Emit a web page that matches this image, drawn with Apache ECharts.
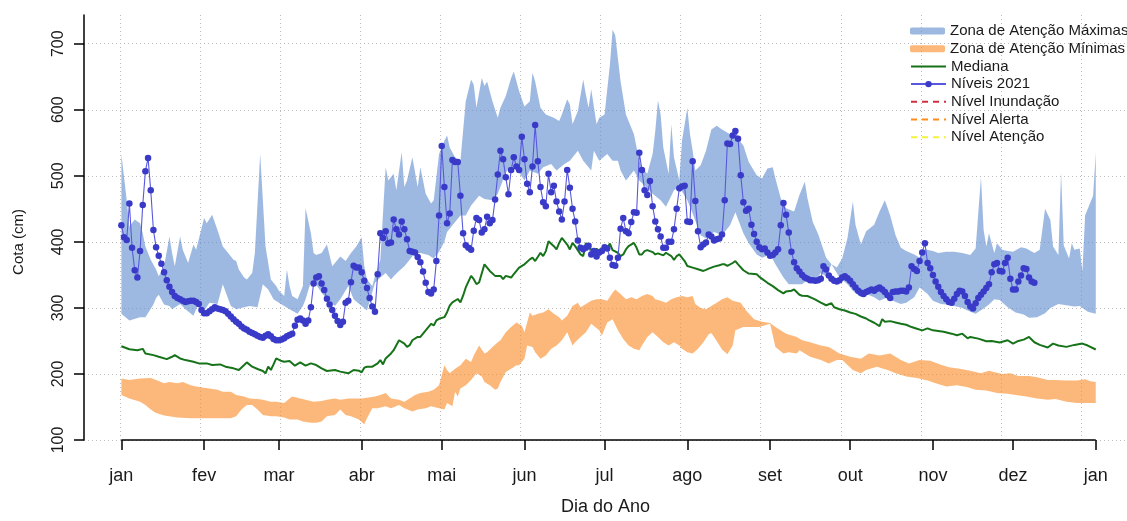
<!DOCTYPE html>
<html>
<head>
<meta charset="utf-8">
<script src="https://cdn.jsdelivr.net/npm/echarts@6/dist/echarts.min.js"></script>
<style>
html,body{margin:0;padding:0;background:#fff;}
#chart{width:1127px;height:521px;}
</style>
</head>
<body>
<div id="chart"></div>
<script>
// ---- axis ticks ----
const monthDays = [1, 32, 60, 91, 121, 152, 182, 213, 244, 274, 305, 335, 366];
const monthNames = ['jan', 'fev', 'mar', 'abr', 'mai', 'jun', 'jul', 'ago', 'set', 'out', 'nov', 'dez', 'jan'];
const gridDays = [0.5, 30.5, 60.5, 90.5, 120.5, 150.5, 180.5, 210.5, 240.5, 270.5, 300.5, 330.5, 360.5];
const yTicks = [100, 200, 300, 400, 500, 600, 700];

// ---- Zona de Atenção Máximas (upper / lower edge, [day, cota]) ----
const maxUpper = [[1,533],[3,463],[4,423],[6,434],[8,428],[9,413],[10,393],[12,373],[14,358],[15,348],[17,363],[19,408],[20,383],[21,363],[23,408],[24,388],[26,368],[28,396],[29,388],[32,436],[33,428],[35,441],[37,418],[39,393],[41,383],[43,373],[44,371],[45,358],[47,346],[48,343],[50,353],[51,383],[53,533],[54,463],[55,393],[57,343],[59,333],[60,326],[62,318],[63,358],[64,333],[65,318],[67,313],[69,333],[70,451],[72,413],[73,383],[74,380],[76,383],[78,396],[80,363],[82,373],[83,378],[85,371],[87,383],[89,393],[91,407],[92,363],[93,343],[95,333],[96,348],[98,373],[100,513],[101,493],[103,503],[104,478],[106,536],[107,483],[108,493],[110,528],[112,483],[113,513],[115,473],[117,458],[118,463],[120,533],[122,553],[123,561],[124,543],[126,528],[128,523],[130,613],[132,646],[133,638],[134,603],[136,648],[137,636],[138,643],[140,613],[142,588],[143,603],[145,621],[147,648],[148,658],[150,628],[152,605],[154,613],[155,656],[156,643],[158,603],[160,593],[163,588],[165,583],[166,593],[168,616],[169,608],[170,578],[172,598],[174,646],[175,623],[176,603],[177,631],[179,578],[180,588],[182,593],[184,668],[185,721],[186,713],[188,643],[190,593],[193,563],[195,523],[196,513],[198,503],[200,533],[201,568],[202,614],[203,593],[204,543],[206,503],[207,578],[208,528],[210,493],[211,553],[213,603],[214,563],[215,538],[216,508],[218,516],[220,538],[222,570],[224,576],[226,570],[229,563],[231,561],[234,546],[236,521],[239,501],[241,496],[243,511],[245,513],[246,496],[248,466],[250,451],[253,446],[255,471],[257,491],[258,466],[260,430],[262,412],[265,376],[267,366],[269,361],[271,375],[273,406],[275,461],[276,426],[278,396],[280,416],[283,426],[285,446],[287,463],[289,440],[291,410],[293,391],[295,386],[298,381],[300,376],[302,389],[305,386],[307,383],[310,385],[313,385],[316,383],[319,380],[321,390],[323,498],[324,418],[325,393],[326,413],[328,383],[329,398],[331,388],[333,386],[335,385],[338,392],[340,390],[343,383],[345,388],[347,450],[349,433],[350,393],[352,380],[353,505],[354,395],[356,375],[357,398],[358,388],[360,390],[361,355],[362,440],[364,460],[365,470],[366,535]];
const maxLower = [[1,291],[4,281],[8,286],[10,286],[13,305],[14,315],[15,320],[17,305],[19,303],[20,298],[23,306],[25,298],[28,288],[30,308],[32,296],[34,308],[37,306],[39,336],[42,303],[44,298],[47,301],[49,303],[52,301],[54,336],[56,328],[58,313],[60,308],[62,303],[64,298],[67,291],[69,303],[70,313],[72,340],[74,335],[76,323],[78,313],[81,303],[83,313],[86,333],[88,313],[91,303],[93,296],[96,338],[98,346],[100,353],[102,343],[103,348],[105,356],[107,363],[109,373],[111,383],[113,383],[116,380],[118,375],[120,385],[122,400],[123,415],[126,430],[128,440],[130,440],[132,455],[135,470],[137,465],[140,463],[142,473],[145,505],[147,515],[150,505],[152,493],[154,508],[157,503],[159,513],[162,518],[164,508],[167,518],[169,523],[172,538],[174,523],[177,508],[178,538],[180,523],[183,533],[185,523],[187,523],[188,508],[190,493],[193,508],[195,493],[198,481],[200,473],[203,463],[205,453],[208,478],[210,483],[213,463],[215,443],[218,410],[220,405],[223,415],[226,410],[229,425],[231,445],[234,413],[236,398],[239,381],[241,376],[244,381],[246,366],[249,346],[251,336],[254,336],[256,336],[259,346],[261,343],[263,353],[265,348],[267,366],[270,346],[273,336],[275,326],[278,316],[280,321],[283,316],[285,311],[288,316],[290,311],[293,306],[295,308],[298,316],[300,331],[303,321],[305,311],[308,306],[310,305],[313,303],[316,300],[319,294],[321,291],[324,299],[326,305],[328,313],[330,312],[333,301],[336,293],[339,290],[341,285],[344,286],[347,292],[349,300],[352,306],[355,304],[358,302],[360,303],[363,294],[366,291]];

// ---- Zona de Atenção Mínimas ----
const minUpper = [[1,193],[4,191],[8,193],[12,194],[14,191],[17,186],[19,188],[22,186],[24,188],[27,183],[29,181],[32,179],[34,178],[37,176],[39,173],[42,173],[44,168],[47,166],[49,163],[52,162],[54,161],[57,158],[59,158],[62,156],[64,163],[65,166],[68,163],[70,161],[73,158],[76,159],[78,161],[81,163],[83,161],[86,163],[88,163],[91,163],[93,164],[96,166],[98,168],[100,171],[102,163],[105,161],[107,158],[109,163],[111,168],[113,171],[116,173],[118,176],[120,183],[122,213],[123,206],[124,201],[126,208],[128,213],[130,223],[132,218],[133,228],[135,243],[137,231],[138,233],[140,241],[142,248],[143,251],[145,263],[147,271],[149,278],[151,273],[152,263],[154,293],[155,288],[157,291],[159,293],[161,298],[163,291],[165,286],[166,281],[168,288],[170,303],[172,308],[173,301],[175,306],[177,311],[179,313],[181,313],[183,311],[185,323],[186,328],[188,321],[190,313],[192,316],[194,313],[196,318],[198,321],[200,318],[201,313],[203,311],[205,308],[207,313],[209,316],[211,318],[213,316],[215,318],[216,306],[218,300],[220,298],[222,303],[224,308],[226,313],[228,316],[230,311],[233,308],[235,296],[238,283],[241,279],[244,277],[246,271],[250,261],[254,256],[256,251],[259,248],[263,243],[266,241],[270,231],[274,226],[278,223],[281,231],[285,228],[289,231],[293,221],[296,216],[300,221],[304,220],[308,214],[311,210],[315,208],[319,205],[323,201],[326,205],[329,202],[331,200],[334,201],[337,197],[341,197],[344,195],[348,191],[351,191],[355,190],[359,190],[362,192],[364,189],[366,188]];
const minLower = [[1,168],[4,163],[8,158],[10,153],[12,146],[14,141],[17,137],[22,134],[27,133],[32,133],[37,133],[42,133],[44,136],[46,146],[48,153],[50,153],[52,146],[54,138],[57,136],[59,136],[62,134],[64,131],[67,131],[69,128],[72,126],[74,126],[76,128],[78,136],[81,138],[83,146],[85,138],[87,136],[90,131],[92,124],[93,133],[95,148],[97,148],[100,151],[102,148],[105,153],[107,148],[110,143],[112,146],[115,148],[117,151],[120,148],[122,146],[123,156],[125,151],[126,173],[127,166],[128,178],[130,183],[132,191],[134,201],[136,196],[137,188],[139,183],[141,176],[142,178],[143,188],[145,203],[147,208],[149,213],[150,213],[152,223],[153,243],[155,241],[156,233],[158,223],[160,228],[162,238],[164,243],[166,251],[168,263],[170,243],[171,248],[173,256],[175,263],[177,276],[180,266],[181,258],[183,278],[185,283],[187,266],[189,253],[191,243],[193,238],[195,236],[196,243],[198,256],[200,263],[202,256],[204,248],[206,243],[208,248],[210,243],[211,238],[213,233],[215,231],[217,238],[219,248],[221,260],[222,262],[224,250],[226,237],[228,230],[230,243],[231,266],[234,271],[236,271],[240,271],[244,276],[246,241],[249,231],[251,233],[254,231],[255,236],[259,226],[263,221],[266,216],[269,221],[271,221],[275,206],[278,201],[280,206],[284,211],[288,206],[291,201],[295,196],[299,194],[303,190],[306,186],[310,181],[314,183],[318,180],[321,176],[325,175],[329,171],[333,170],[336,168],[340,166],[344,163],[348,161],[351,162],[355,158],[359,156],[363,156],[366,156]];

// ---- Mediana ----
const mediana = [[1,242],[4,237.5],[7,236],[9,238],[10,231],[13,228.5],[15,226],[18,222.5],[20,226],[21,228.5],[23,223.5],[25,221],[28,218.5],[30,216],[33,216],[35,213.5],[38,214.5],[40,211],[43,208.5],[45,206],[47,213.5],[48,217.5],[50,211],[52,207.5],[54,204.5],[55,201],[56,211],[57,206],[58,214.5],[59,223.5],[61,219.5],[62,218.5],[64,219.5],[66,212.5],[68,217.5],[70,212.5],[72,216],[74,213.5],[76,208.5],[78,204.5],[81,206],[83,203.5],[86,201],[88,206],[90,205],[91,202.5],[92,209.5],[93,211],[95,211],[97,216],[98,221],[99,214.5],[100,223.5],[102,231],[103,236],[104,243.5],[105,251],[107,246],[108,241],[109,243.5],[110,251],[112,256],[113,256],[114,261],[115,266],[117,276],[118,273.5],[119,281],[120,283.5],[122,286],[123,293.5],[124,303.5],[125,308.5],[127,313.5],[128,308.5],[129,318.5],[130,331],[132,348.5],[133,343.5],[134,336],[135,338.5],[137,366],[138,361],[139,356],[141,348.5],[143,348.5],[144,343.5],[145,348.5],[147,346],[148,351],[149,356],[150,361],[152,366],[154,373.5],[155,376],[156,371],[158,383.5],[159,378.5],[160,386],[161,401],[163,393.5],[164,388.5],[165,398.5],[166,406],[168,396],[169,388.5],[170,398.5],[171,393.5],[173,381],[174,378.5],[175,398.5],[176,391],[178,386],[179,389.5],[181,383.5],[182,387.5],[183,391],[184,397.5],[185,387.5],[187,383.5],[188,378.5],[189,381],[190,388.5],[191,393.5],[193,398.5],[194,391],[195,381],[196,381],[197,386],[198,387.5],[200,384.5],[201,381],[202,382.5],[204,379.5],[205,383.5],[207,378.5],[208,372.5],[209,378.5],[210,381],[212,371],[213,363.5],[215,361],[217,358.5],[219,356],[220,357.5],[221,359.5],[223,362.5],[225,364.5],[226,366],[227,366],[228,363.5],[230,368],[231,371],[232,366],[234,357],[236,352],[239,351],[240,347],[241,344],[243,338],[245,333],[247,327],[249,322],[250,325],[252,326],[253,328],[255,320],[256,318.5],[258,318],[260,314.5],[261,312.5],[263,308],[265,304],[267,307],[268,301],[270,298],[272,296],[274,293],[276,291],[278,287],[280,284],[281,281.5],[283,277.5],[285,272.5],[286,283],[287,279],[289,280],[291,278],[293,276],[295,274.5],[297,271],[299,268.5],[301,266],[303,269],[305,266],[309,264],[312,261],[314,258.5],[316,261],[318,254],[319,256],[322,253.5],[325,249.5],[327,250],[330,247.5],[333,251],[335,246],[337,250],[339,252],[341,256],[343,248],[345,244],[348,240],[350,246],[352,243],[355,241],[358,244],[361,246],[363,243],[366,237]];

// ---- Níveis 2021 (daily, starting on day 1) ----
const niveisStartDay = 1;
const niveis2021 = [425,407,403,458,391,357,346,386,456,507,527,478,418,392,379,367,354,342,332,324,318,315,313,311,309,310,311,311,309,306,297,292,292,295,298,301,299,298,297,295,291,287,283,279,276,272,269,267,264,262,260,258,256,255,258,260,257,253,251,251,252,254,257,259,261,273,282,284,281,276,281,301,337,346,348,337,327,314,305,297,288,280,274,279,308,311,339,364,361,361,354,341,330,315,302,294,351,413,406,416,398,399,434,419,411,431,419,404,386,385,384,377,369,355,338,324,322,328,371,440,545,483,428,443,524,521,521,470,413,395,391,388,417,436,433,414,419,438,428,433,464,502,538,525,498,472,509,528,514,509,559,525,488,475,514,577,522,483,460,454,503,475,485,461,446,434,461,509,482,450,431,402,391,389,391,394,381,386,378,384,386,392,390,376,365,364,376,420,436,416,413,430,445,444,535,509,478,471,492,454,431,419,408,391,391,400,400,419,450,481,484,485,431,430,522,462,416,392,396,399,411,408,402,404,405,411,463,549,548,561,568,556,501,460,447,450,426,412,400,392,389,390,384,379,380,384,389,425,459,441,414,385,369,360,355,350,346,344,342,342,341,342,344,363,358,349,344,341,340,342,346,348,345,341,336,331,326,323,321,324,326,328,326,329,331,328,324,319,315,324,325,325,326,326,325,331,363,359,356,371,384,398,368,360,350,340,332,324,318,313,309,308,314,321,326,325,318,309,302,299,307,315,320,325,330,336,354,366,368,356,355,368,376,344,328,328,340,349,360,359,346,340,338];

const FONT = "'Liberation Sans', Arial, Helvetica, sans-serif";
const TXT = '#1a1a1a';
const GRIDC = '#bcbcbc';

function bandSeries(name, color, upper, lower) {
  return {
    name: name, type: 'custom', coordinateSystem: 'cartesian2d',
    xAxisIndex: 0, yAxisIndex: 0, silent: true, clip: true,
    itemStyle: { color: color },
    data: [[upper[0][0], upper[0][1]]],
    renderItem: function (params, api) {
      const pts = [];
      for (let i = 0; i < upper.length; i++) pts.push(api.coord(upper[i]));
      for (let i = lower.length - 1; i >= 0; i--) pts.push(api.coord(lower[i]));
      return { type: 'polygon', shape: { points: pts }, style: { fill: color } };
    }
  };
}

const niveisData = niveis2021.map((v, i) => [niveisStartDay + i, v]);

const chart = echarts.init(document.getElementById('chart'));
chart.setOption({
  animation: false,
  backgroundColor: '#fff',
  textStyle: { fontFamily: FONT },
  grid: { left: 84, right: 0, top: 15, bottom: 77, containLabel: false },
  legend: [
    {
      orient: 'vertical', left: 910, top: 23.5, padding: 0, itemGap: 2.7,
      itemWidth: 35, itemHeight: 7, icon: 'roundRect', selectedMode: false,
      textStyle: { fontFamily: FONT, fontSize: 15, color: TXT },
      data: ['Zona de Atenção Máximas', 'Zona de Atenção Mínimas']
    },
    {
      orient: 'vertical', left: 910, top: 58.9, padding: 0, itemGap: 2.7,
      itemWidth: 35, itemHeight: 8, selectedMode: false,
      textStyle: { fontFamily: FONT, fontSize: 15, color: TXT },
      data: [
        { name: 'Mediana', itemStyle: { opacity: 0 } },
        { name: 'Níveis 2021' },
        { name: 'Nível Inundação', itemStyle: { opacity: 0 } },
        { name: 'Nível Alerta', itemStyle: { opacity: 0 } },
        { name: 'Nível Atenção', itemStyle: { opacity: 0 } }
      ]
    }
  ],
  xAxis: [
    {
      type: 'value', min: -13, max: 377.7,
      axisLine: { show: false, onZero: false },
      axisTick: { show: true, customValues: monthDays, length: 10, lineStyle: { color: '#000', width: 1.5 } },
      axisLabel: {
        customValues: monthDays, margin: 27, fontSize: 18, color: TXT, fontFamily: FONT,
        formatter: function (v) { const k = monthDays.indexOf(v); return k >= 0 ? monthNames[k] : ''; }
      },
      splitLine: { show: false },
      name: 'Dia do Ano', nameLocation: 'middle', nameGap: 58,
      nameTextStyle: { fontSize: 18, color: TXT, fontFamily: FONT }
    },
    {
      type: 'value', min: -13, max: 377.7, position: 'top',
      axisLine: { show: false, onZero: false },
      axisTick: { show: false, customValues: gridDays },
      axisLabel: { show: false, customValues: gridDays },
      splitLine: { show: true, lineStyle: { color: GRIDC, type: [1, 3], width: 1 } }
    }
  ],
  yAxis: {
    type: 'value', min: 100, max: 743.5,
    axisLine: { show: true, onZero: false, lineStyle: { color: '#000', width: 1.5 } },
    axisTick: { show: true, customValues: yTicks, length: 10, lineStyle: { color: '#000', width: 1.5 } },
    axisLabel: { customValues: yTicks, rotate: 90, margin: 17, fontSize: 16, color: TXT, fontFamily: FONT },
    splitLine: { show: true, lineStyle: { color: GRIDC, type: [1, 3], width: 1 } },
    name: 'Cota (cm)', nameLocation: 'middle', nameGap: 58,
    nameTextStyle: { fontSize: 15, color: TXT, fontFamily: FONT, padding: [0, 29, 0, 0] }
  },
  series: [
    bandSeries('Zona de Atenção Máximas', 'rgba(92,138,205,0.6)', maxUpper, maxLower),
    bandSeries('Zona de Atenção Mínimas', 'rgba(250,137,33,0.6)', minUpper, minLower),
    {
      name: 'Mediana', type: 'line', data: mediana, symbol: 'none', silent: true,
      lineStyle: { color: '#17731a', width: 2 }, itemStyle: { color: '#17731a' },
      markLine: {
        silent: true, symbol: 'none', label: { show: false },
        lineStyle: { color: '#000', width: 1.5, type: 'solid' },
        data: [[{ coord: [monthDays[0], 100] }, { coord: [monthDays[12], 100] }]]
      }
    },
    {
      name: 'Níveis 2021', type: 'line', data: niveisData, symbol: 'circle', symbolSize: 6.5,
      showAllSymbol: true, silent: true,
      lineStyle: { color: '#5858de', width: 1.1 }, itemStyle: { color: '#3a3ac9' }
    },
    { name: 'Nível Inundação', type: 'line', data: [], symbol: 'none',
      lineStyle: { color: '#d03040', width: 1.6, type: [6, 5] }, itemStyle: { color: '#d03040' } },
    { name: 'Nível Alerta', type: 'line', data: [], symbol: 'none',
      lineStyle: { color: '#ff8c1a', width: 1.6, type: [6, 5] }, itemStyle: { color: '#ff8c1a' } },
    { name: 'Nível Atenção', type: 'line', data: [], symbol: 'none',
      lineStyle: { color: '#f2f23a', width: 1.6, type: [6, 5] }, itemStyle: { color: '#f2f23a' } }
  ]
});
</script>
</body>
</html>
